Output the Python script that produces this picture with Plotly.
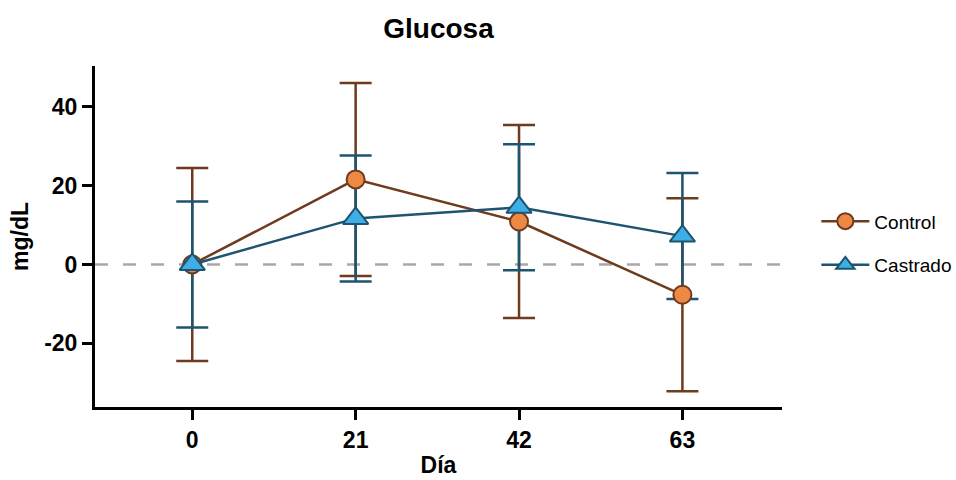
import plotly.graph_objects as go

days = [0, 21, 42, 63]
control_mean = [0.0, 21.6, 10.9, -7.7]
control_err = [24.5, 24.5, 24.5, 24.5]
castrado_mean = [0.0, 11.7, 14.5, 7.2]
castrado_err = [16.0, 16.0, 16.0, 16.0]

y_ticks = [-20, 0, 20, 40]
y_tick_labels = ["-20", "0", "20", "40"]
x_tick_labels = ["0", "21", "42", "63"]

C_LINE = "#6E3B1E"
C_FILL = "#EE8945"
K_LINE = "#1D5470"
K_FILL = "#3FAEE6"

FONT = "Liberation Sans, Arial, sans-serif"

fig = go.Figure()

# error bars (drawn first so markers sit on top)
for mean, err, col in [(control_mean, control_err, C_LINE), (castrado_mean, castrado_err, K_LINE)]:
    fig.add_trace(go.Scatter(
        x=days, y=mean, mode="markers",
        marker=dict(size=1, color="rgba(0,0,0,0)"),
        error_y=dict(type="data", array=err, visible=True, color=col, thickness=2.5, width=16),
        showlegend=False, hoverinfo="skip"))

fig.add_trace(go.Scatter(
    x=days, y=control_mean, mode="lines+markers", name="Control",
    line=dict(color=C_LINE, width=2.5),
    marker=dict(symbol="circle", size=18, color=C_FILL, line=dict(color=C_LINE, width=2)),
    legendgroup="a"))
fig.add_trace(go.Scatter(
    x=days, y=castrado_mean, mode="lines+markers", name="Castrado",
    line=dict(color=K_LINE, width=2.5),
    marker=dict(symbol="triangle-up", size=22, color=K_FILL, line=dict(color=K_LINE, width=2)),
    legendgroup="b"))

fig.add_shape(type="line", xref="paper", yref="y", x0=0, x1=1, y0=0, y1=0,
              line=dict(color="#A8A8A8", width=2.5, dash="13px,15px"), layer="below")

fig.update_layout(
    width=956, height=480,
    margin=dict(l=95, r=174, t=66, b=73, autoexpand=False),
    paper_bgcolor="white", plot_bgcolor="white",
    font=dict(family=FONT, color="black"),
    title=dict(text="<b>Glucosa</b>", x=(95 + 782) / 2 / 956, xanchor="center",
               y=1 - 28 / 480, yanchor="middle", font=dict(size=28, family=FONT, color="black")),
    legend=dict(x=1.05, xanchor="left", y=0.48, yanchor="middle",
                font=dict(size=19, family=FONT, color="black"),
                traceorder="grouped", tracegroupgap=16, itemwidth=48,
                bgcolor="rgba(0,0,0,0)"),
    showlegend=True,
)

fig.update_xaxes(
    range=[-12.5, 75.8], tickvals=days, ticktext=x_tick_labels, automargin=False,
    showline=True, linecolor="black", linewidth=3, showgrid=False, zeroline=False,
    ticks="outside", ticklen=10, tickwidth=3, tickcolor="black",
    tickfont=dict(size=23, family=FONT, color="black", weight="bold"),
    title=dict(text="<b>Día</b>", font=dict(size=23, family=FONT, color="black"), standoff=6))
fig.update_yaxes(
    range=[-36.2, 50.4], tickvals=y_ticks, ticktext=y_tick_labels, automargin=False,
    showline=True, linecolor="black", linewidth=3, showgrid=False, zeroline=False,
    ticks="outside", ticklen=10, tickwidth=3, tickcolor="black",
    tickfont=dict(size=23, family=FONT, color="black", weight="bold"),
    title=dict(text="<b>mg/dL</b>", font=dict(size=23, family=FONT, color="black"), standoff=10))

fig.write_html("out.html")
